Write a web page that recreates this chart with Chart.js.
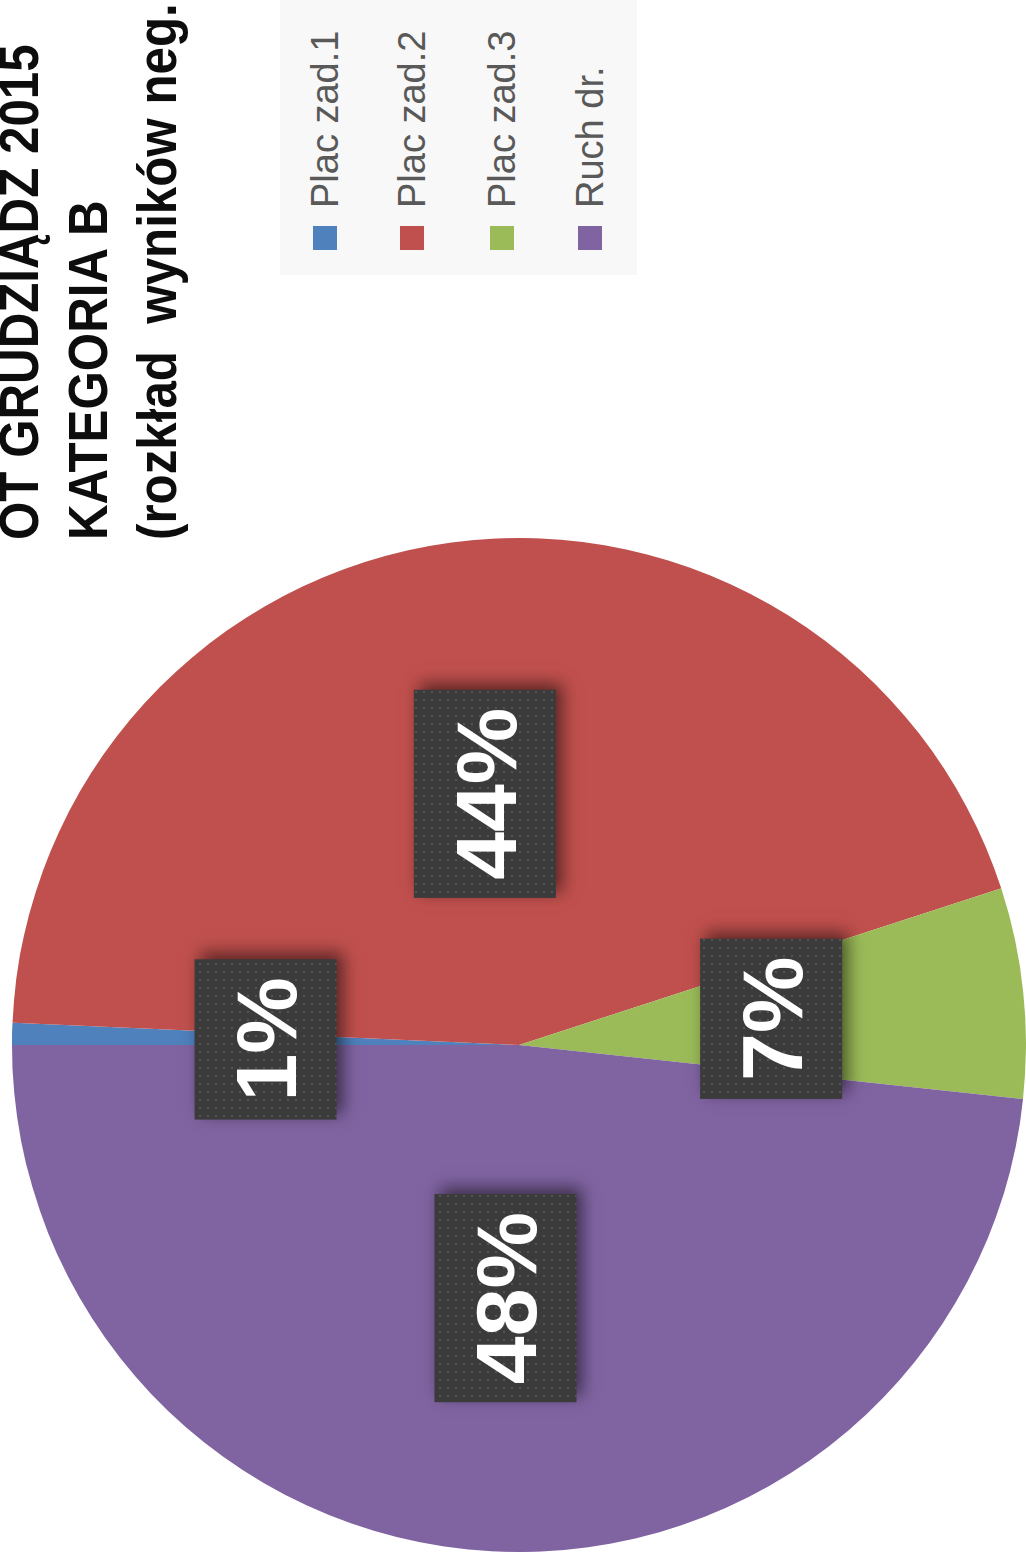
<!DOCTYPE html>
<html><head><meta charset="utf-8">
<script src="https://cdn.jsdelivr.net/npm/chart.js@4/dist/chart.umd.min.js"></script>
<style>
html,body{margin:0;padding:0;background:#fff;overflow:hidden;width:1026px;height:1555px;}
#stage{position:absolute;left:0;top:0;width:1555px;height:1026px;transform-origin:0 0;transform:translate(0,1555px) rotate(-90deg);overflow:hidden;}
#chart{position:absolute;left:3px;top:12px;}
#title{position:absolute;left:1015px;top:-16px;font-family:"Liberation Sans",Arial,sans-serif;font-weight:bold;font-size:56px;line-height:69px;color:#0d0d0d;white-space:pre;transform-origin:0 0;transform:scaleX(0.88);}
#legend{position:absolute;left:1280px;top:280px;width:300px;height:357px;background:#f8f8f8;}
.item{position:absolute;left:25px;height:40px;display:flex;align-items:center;font-family:"Liberation Sans",Arial,sans-serif;font-size:38px;color:#595959;white-space:nowrap;}
.sw{width:24px;height:24px;margin-right:18px;flex:none;}
</style>
</head>
<body>
<div id="stage">
  <canvas id="chart" width="1014" height="1014"></canvas>
  <div id="title"></div>
  <div id="legend"></div>
</div>
<script>
const titleLines = ['OT GRUDZIĄDZ 2015', 'KATEGORIA B', '(rozkład  wyników neg.'];
const categories = ['Plac zad.1', 'Plac zad.2', 'Plac zad.3', 'Ruch dr.'];
const values = [0.7, 44.3, 6.7, 48.3];
const colors = ['#4f81bd', '#c0504d', '#9bbb59', '#8064a2'];

document.getElementById('title').textContent = titleLines.join('\n');

const legendEl = document.getElementById('legend');
const legendTops = [25, 112, 202, 290];
categories.forEach((c, i) => {
  const it = document.createElement('div');
  it.className = 'item';
  it.style.top = legendTops[i] + 'px';
  const sw = document.createElement('span');
  sw.className = 'sw';
  sw.style.background = colors[i];
  const tx = document.createElement('span');
  tx.textContent = c;
  it.appendChild(sw); it.appendChild(tx);
  legendEl.appendChild(it);
});

// dotted pattern for label boxes
const pc = document.createElement('canvas');
pc.width = 8; pc.height = 8;
const pctx = pc.getContext('2d');
pctx.fillStyle = 'rgba(255,255,255,0.13)';
pctx.fillRect(3, 3, 2, 2);

const labelPlugin = {
  id: 'boxLabels',
  afterDatasetsDraw(chart) {
    const ctx = chart.ctx;
    const meta = chart.getDatasetMeta(0);
    const total = values.reduce((a, b) => a + b, 0);
    const pattern = ctx.createPattern(pc, 'repeat');
    meta.data.forEach((arc, i) => {
      const p = arc.getCenterPoint();
      const txt = Math.round(values[i] / total * 100) + '%';
      ctx.save();
      ctx.font = 'bold 86px "Liberation Sans", Arial, sans-serif';
      const tw = ctx.measureText(txt).width;
      const w = tw + 36, h = 142;
      const x = p.x - w / 2, y = p.y - h / 2;
      ctx.shadowColor = 'rgba(0,0,0,0.55)';
      ctx.shadowBlur = 16;
      ctx.shadowOffsetX = 6;
      ctx.shadowOffsetY = 6;
      ctx.fillStyle = '#3b3b3b';
      ctx.fillRect(x, y, w, h);
      ctx.shadowColor = 'transparent';
      ctx.fillStyle = pattern;
      ctx.fillRect(x, y, w, h);
      ctx.fillStyle = '#ffffff';
      ctx.textAlign = 'center';
      ctx.textBaseline = 'alphabetic';
      ctx.fillText(txt, p.x, p.y + 0.358 * 86);
      ctx.restore();
    });
  }
};

new Chart(document.getElementById('chart'), {
  type: 'pie',
  data: {
    labels: categories,
    datasets: [{ data: values, backgroundColor: colors, borderWidth: 0, hoverOffset: 0 }]
  },
  options: {
    responsive: false,
    animation: false,
    rotation: 0,
    layout: { padding: 0 },
    plugins: { legend: { display: false }, tooltip: { enabled: false } }
  },
  plugins: [labelPlugin]
});
</script>
</body></html>
